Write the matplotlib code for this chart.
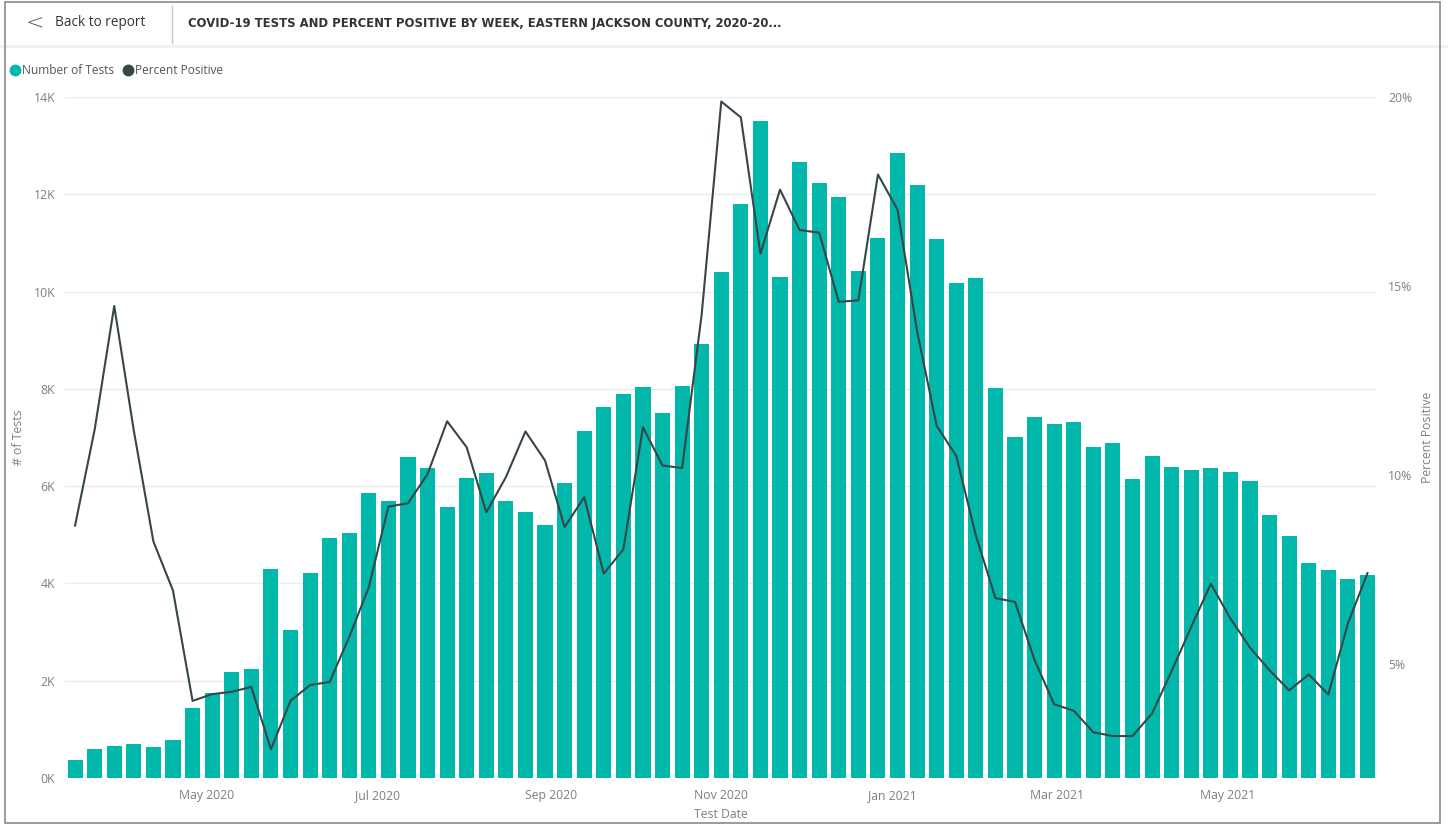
import matplotlib.pyplot as plt
from matplotlib.patches import Rectangle
from matplotlib.lines import Line2D
import pandas as pd

# weekly data, week starting Sunday
week_start = '2020-03-15'
n_weeks = 67
tests = [370, 600, 665, 700, 630, 780, 1430, 1755, 2185, 2235,
         4290, 3040, 4220, 4930, 5030, 5860, 5700, 6600, 6380, 5570,
         6160, 6270, 5690, 5470, 5200, 6060, 7140, 7630, 7900, 8040,
         7500, 8060, 8920, 10400, 11800, 13500, 10300, 12660, 12230, 11950,
         10420, 11100, 12840, 12190, 11080, 10180, 10280, 8020, 7000, 7420,
         7270, 7310, 6800, 6880, 6150, 6610, 6400, 6330, 6370, 6290,
         6100, 5400, 4970, 4430, 4280, 4100, 4170]
pct_pos = [8.66, 11.2, 14.47, 11.17, 8.24, 6.94, 4.02, 4.2, 4.26, 4.39,
           2.74, 4.02, 4.44, 4.52, 5.71, 7.03, 9.16, 9.25, 10.02, 11.42,
           10.73, 9.01, 9.94, 11.15, 10.38, 8.62, 9.41, 7.39, 8.03, 11.26,
           10.25, 10.18, 14.25, 19.88, 19.46, 15.85, 17.55, 16.48, 16.41, 14.58,
           14.62, 17.95, 17.02, 13.8, 11.3, 10.5, 8.4, 6.74, 6.64, 5.1,
           3.93, 3.76, 3.19, 3.09, 3.09, 3.69, 4.81, 5.98, 7.12, 6.2,
           5.43, 4.83, 4.3, 4.72, 4.19, 6.07, 7.4]
left_ticks = [0, 2000, 4000, 6000, 8000, 10000, 12000, 14000]
left_labels = ['0K', '2K', '4K', '6K', '8K', '10K', '12K', '14K']
right_ticks = [5, 10, 15, 20]
right_labels = ['5%', '10%', '15%', '20%']
month_ticks = ['2020-05-01', '2020-07-01', '2020-09-01', '2020-11-01',
               '2021-01-01', '2021-03-01', '2021-05-01']
month_labels = ['May 2020', 'Jul 2020', 'Sep 2020', 'Nov 2020',
                'Jan 2021', 'Mar 2021', 'May 2021']

TEAL = '#01B8AA'
DARK = '#374649'
GREY = '#7f7f7f'
plt.rcParams['font.family'] = ['Open Sans', 'DejaVu Sans']

dates = pd.date_range(week_start, periods=n_weeks, freq='7D')

fig = plt.figure(figsize=(14.48, 8.25), dpi=100)
ax = fig.add_axes([65 / 1448, 47 / 825, 1312 / 1448, 681 / 825])
ax2 = ax.twinx()

ax.bar(dates, tests, width=5.4, color=TEAL, zorder=2)
ax.set_ylim(0, 14000)
ax.set_yticks(left_ticks)
ax.set_yticklabels(left_labels)
ax.grid(axis='y', color='#ececec', lw=1, zorder=0)
ax.set_axisbelow(True)
ax.set_xlim(dates[0] - pd.Timedelta(days=3.6), dates[-1] + pd.Timedelta(days=3.4))
ax.set_xticks(pd.to_datetime(month_ticks))
ax.set_xticklabels(month_labels)
ax.set_xlabel('Test Date', color=GREY, fontsize=8.8, labelpad=4)
ax.set_ylabel('# of Tests', color=GREY, fontsize=8.8, labelpad=6)
ax.tick_params(axis='both', length=0, labelcolor=GREY, labelsize=8.8)
ax.tick_params(axis='x', pad=8)
ax.tick_params(axis='y', pad=7)

ax2.plot(dates, pct_pos, color=DARK, lw=1.5, zorder=3)
ax2.set_ylim(1.98, 20)
ax2.set_yticks(right_ticks)
ax2.set_yticklabels(right_labels)
ax2.set_ylabel('Percent Positive', color=GREY, fontsize=8.8, labelpad=6)
ax2.tick_params(axis='y', length=0, labelcolor=GREY, labelsize=8.8, pad=8)

for a in (ax, ax2):
    for s in a.spines.values():
        s.set_visible(False)

# header
fig.add_artist(Line2D([0, 1], [1 - 46 / 825] * 2, transform=fig.transFigure,
                      color='#f0f0f0', lw=2))
fig.add_artist(Line2D([172 / 1448] * 2, [1 - 6 / 825, 1 - 43 / 825],
                      transform=fig.transFigure, color='#c8c8c8', lw=1))
fig.text(26 / 1448, 1 - 23 / 825, '<', fontsize=16, color='#555555',
         va='center', ha='left', family='DejaVu Sans', fontweight='light')
fig.text(55 / 1448, 1 - 23 / 825, 'Back to report', fontsize=9.8, color='#333333',
         va='center', ha='left')
fig.text(188 / 1448, 1 - 23 / 825,
         'COVID-19 TESTS AND PERCENT POSITIVE BY WEEK, EASTERN JACKSON COUNTY, 2020-20...',
         fontsize=8.4, color='#333333', va='center', ha='left', fontweight='bold',
         family='DejaVu Sans')

# legend
fig.add_artist(Line2D([15 / 1448], [1 - 70 / 825], marker='o', ms=7.5, color=TEAL,
                      transform=fig.transFigure, lw=0))
fig.text(22 / 1448, 1 - 70 / 825, 'Number of Tests', fontsize=8.6, color='#555555',
         va='center', ha='left')
fig.add_artist(Line2D([128 / 1448], [1 - 70 / 825], marker='o', ms=7.5, color=DARK,
                      transform=fig.transFigure, lw=0))
fig.text(135 / 1448, 1 - 70 / 825, 'Percent Positive', fontsize=8.6, color='#555555',
         va='center', ha='left')

# outer frame
fig.patches.append(Rectangle((5 / 1448, 2 / 825), 1435 / 1448, 821 / 825,
                             transform=fig.transFigure, facecolor='none',
                             edgecolor='#8a8a8a', lw=1.2, zorder=5))

fig.savefig('out.png', dpi=100)
